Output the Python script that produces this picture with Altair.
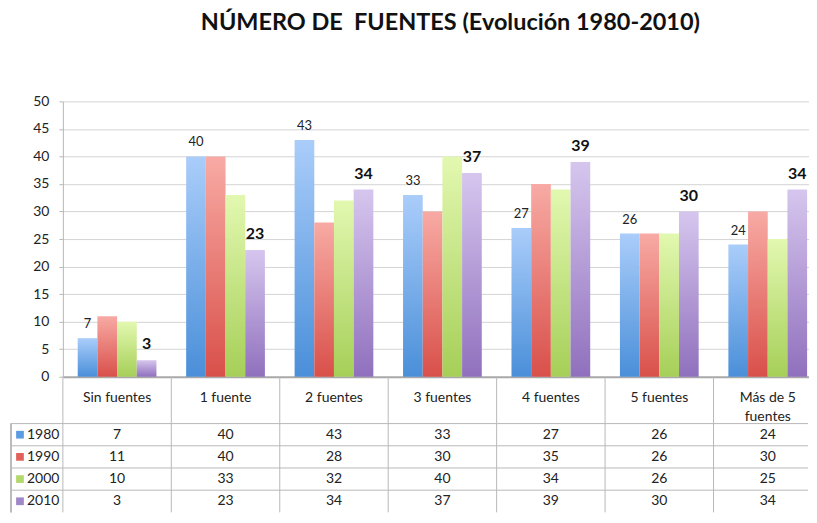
import altair as alt
import pandas as pd

categories = ["Sin fuentes", "1 fuente", "2 fuentes", "3 fuentes", "4 fuentes", "5 fuentes", "Más de 5\nfuentes"]
years = ["1980", "1990", "2000", "2010"]
v1980 = [7, 40, 43, 33, 27, 26, 24]
v1990 = [11, 40, 28, 30, 35, 26, 30]
v2000 = [10, 33, 32, 40, 34, 26, 25]
v2010 = [3, 23, 34, 37, 39, 30, 34]
series = {"1980": v1980, "1990": v1990, "2000": v2000, "2010": v2010}

top_colors = {"1980": "#aacdfa", "1990": "#f8aaa4", "2000": "#e2f8b0", "2010": "#d6c6ee"}
bottom_colors = {"1980": "#4a8fd9", "1990": "#d9504a", "2000": "#a6cf58", "2010": "#9070bd"}
swatch = ["#5b9bdf", "#e0625a", "#b4d86a", "#a087c8"]

rows = []
for y in years:
    for c, v in zip(categories, series[y]):
        rows.append({"cat": c, "year": y, "value": v})
df = pd.DataFrame(rows)
df_cats = pd.DataFrame({"cat": categories})

W = 747          # visible panel width (page edge)
XR = 761         # full category range; the last column runs past the page edge
FONT = "Lato"
GRID = "#d4d4d4"
LINE = "#b8b8b8"

xbar = alt.X("cat:N", sort=categories, title=None,
             scale=alt.Scale(paddingInner=0.274, paddingOuter=0.137, range=[0, XR]),
             axis=None)
xoff = alt.XOffset("year:N", scale=alt.Scale(domain=years, paddingInner=0, paddingOuter=0))
ybar = alt.Y("value:Q", title=None,
             scale=alt.Scale(domain=[0, 50], nice=False),
             axis=alt.Axis(values=list(range(0, 51, 5)), grid=True,
                           gridColor=alt.condition("datum.value === 0", alt.value("#a8a8a8"), alt.value(GRID)),
                           gridWidth=alt.condition("datum.value === 0", alt.value(2), alt.value(1)),
                           tickSize=4, tickColor=LINE, domainColor=LINE, labelFontSize=14,
                           labelFont=FONT, labelColor="#222", labelPadding=10))

base = alt.Chart(df)
layers = []
for y in years:
    grad = alt.LinearGradient(gradient="linear",
                              stops=[alt.GradientStop(offset=0, color=top_colors[y]),
                                     alt.GradientStop(offset=1, color=bottom_colors[y])],
                              x1=0, x2=0, y1=0, y2=1)
    layers.append(base.transform_filter(alt.datum.year == y)
                  .mark_bar(fill=grad)
                  .encode(x=xbar, xOffset=xoff, y=ybar))

lab80 = base.transform_filter(alt.datum.year == "1980").mark_text(
    baseline="bottom", dy=-7, fontSize=13, font=FONT, color="#222"
).encode(x=xbar, xOffset=xoff, y=ybar, text="value:Q")
lab10 = base.transform_filter(alt.datum.year == "2010").mark_text(
    baseline="bottom", dy=-8, fontSize=16, font=FONT, fontWeight="bold", color="#111"
).encode(x=xbar, xOffset=xoff, y=ybar, text="value:Q")

bars = alt.layer(*layers, lab80, lab10).properties(width=W, height=276)

tscale = alt.Scale(domain=categories, paddingInner=0, paddingOuter=0, range=[0, XR])
xtab = alt.X("cat:N", sort=categories, title=None, scale=tscale, axis=None)
xsep = alt.X("cat:N", sort=categories, title=None, scale=tscale, axis=None, bandPosition=0)

hsep = alt.Chart(df_cats).mark_rule(color=LINE, strokeWidth=1).encode(x=xsep)
htext = alt.Chart(df_cats).mark_text(
    fontSize=14, font=FONT, color="#222", lineBreak="\n", lineHeight=19, dy=-2
).encode(x=xtab, text="cat:N")
header = alt.layer(hsep, htext).properties(width=W, height=47)

ytab = alt.Y("year:N", sort=years, title=None,
             scale=alt.Scale(domain=years, paddingInner=0, paddingOuter=0),
             axis=alt.Axis(ticks=False, domain=False, grid=False, labelFontSize=14,
                           labelFont=FONT, labelColor="#222", labelPadding=4))

TH = 89
tbase = alt.Chart(df)
cells = tbase.mark_text(fontSize=14, font=FONT, color="#222").encode(
    x=xtab, y=ytab, text="value:Q")
tsep = alt.Chart(df_cats).mark_rule(color=LINE, strokeWidth=1).encode(x=xsep)
hlines = tbase.transform_filter(alt.datum.cat == categories[0]).mark_rule(
    color=LINE, strokeWidth=1).encode(
    y=alt.Y("year:N", sort=years, bandPosition=0), x=alt.value(-52), x2=alt.value(W))
vline = tbase.transform_filter(alt.datum.cat == categories[0]).mark_rule(
    color=LINE, strokeWidth=1).encode(
    x=alt.value(-52), y=alt.value(0), y2=alt.value(TH))
swatches = tbase.transform_filter(alt.datum.cat == categories[0]).mark_point(
    shape="square", filled=True, size=60, opacity=1).encode(
    x=alt.value(-43), y=ytab,
    fill=alt.Fill("year:N", scale=alt.Scale(domain=years, range=swatch), legend=None))

table = alt.layer(tsep, hlines, vline, cells, swatches).properties(width=W, height=TH)

chart = alt.vconcat(bars, header, table, spacing=0, bounds="flush").resolve_scale(
    x="independent", y="independent"
).properties(
    title=alt.TitleParams("NÚMERO DE \u00a0FUENTES (Evolución 1980-2010)", font=FONT,
                          fontSize=23.5, fontWeight="bold", color="#111",
                          anchor="middle", offset=60, dx=41),
    padding={"left": 2, "top": 2, "right": 0, "bottom": 0},
).configure_view(strokeWidth=0)

chart.save("out.html", embed_options={"renderer": "svg", "actions": False})
